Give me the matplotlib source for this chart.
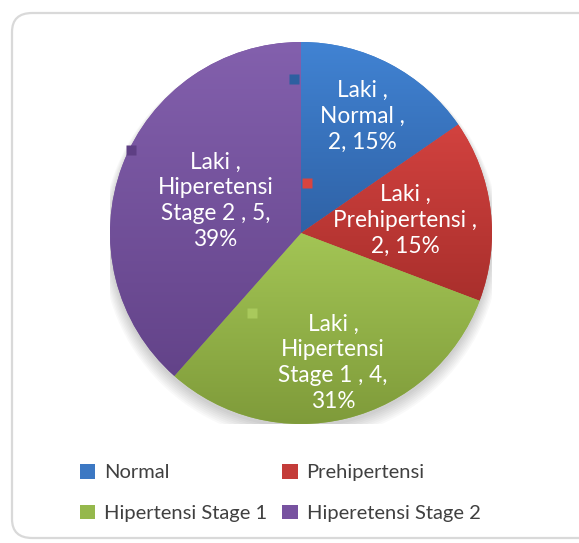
import matplotlib.pyplot as plt
import numpy as np
from matplotlib.patches import FancyBboxPatch, Rectangle, Circle
from matplotlib.colors import LinearSegmentedColormap

plt.rcParams['font.family'] = ['Lato', 'DejaVu Sans']

categories = ["Normal", "Prehipertensi", "Hipertensi Stage 1", "Hiperetensi Stage 2"]
values = [2, 2, 4, 5]
pct_labels = ["15%", "15%", "31%", "39%"]
label_texts = ["Laki ,\nNormal ,\n2, 15%",
               "Laki ,\nPrehipertensi ,\n2, 15%",
               "Laki ,\nHipertensi\nStage 1 , 4,\n31%",
               "Laki ,\nHiperetensi\nStage 2 , 5,\n39%"]
label_dist = [0.69, 0.55, 0.70, 0.48]
# light (top) / dark (bottom) shades per slice
top_colors = ["#4183d3", "#d2423f", "#a3c555", "#8360ad"]
bot_colors = ["#2f62a6", "#a92f2c", "#7f9b3a", "#634389"]
mid_colors = ["#3c78c3", "#c43c39", "#95b84c", "#7752a0"]
key_colors = ["#2d5fa0", "#d8443f", "#a9c95c", "#5e3f84"]

W, H = 579, 543
fig = plt.figure(figsize=(W / 100, H / 100), dpi=100)

# rounded chart frame
frame = FancyBboxPatch((12 / W, 5 / H), (W + 20) / W, (H - 18) / H,
                       boxstyle="round,pad=0,rounding_size=0.035",
                       transform=fig.transFigure, facecolor="white",
                       edgecolor="#d9d9d9", linewidth=1.6, zorder=-5)
fig.patches.append(frame)

cx, cy, r = 301, 233, 191
ax = fig.add_axes([(cx - r) / W, (H - cy - r) / H, 2 * r / W, 2 * r / H])
ax.set_xlim(-1, 1)
ax.set_ylim(-1, 1)
ax.set_aspect('equal')
ax.axis('off')

# soft shadow
for k in range(8):
    ax.add_patch(Circle((0, -0.02 - k * 0.004), 1.0 + k * 0.006, facecolor="black",
                        alpha=0.025, edgecolor="none", zorder=0))

wedges, _ = ax.pie(values, startangle=90, counterclock=False,
                   colors=mid_colors, radius=1.0,
                   wedgeprops=dict(edgecolor="none", linewidth=0))

grad = np.linspace(1, 0, 256).reshape(-1, 1)
for w, tc, bc in zip(wedges, top_colors, bot_colors):
    cmap = LinearSegmentedColormap.from_list("g", [bc, tc])
    bb = w.get_path().get_extents()
    im = ax.imshow(grad, cmap=cmap, extent=[bb.x0, bb.x1, bb.y0, bb.y1],
                   aspect='auto', zorder=2, vmin=0, vmax=1)
    im.set_clip_path(w)
ax.set_xlim(-1, 1)
ax.set_ylim(-1, 1)
ax.set_aspect('equal')

texts = []
for w, txt, d in zip(wedges, label_texts, label_dist):
    ang = np.deg2rad((w.theta1 + w.theta2) / 2)
    t = ax.text(d * np.cos(ang), d * np.sin(ang), txt, ha="center", va="center",
                color="white", fontsize=16.3, linespacing=1.28, zorder=5)
    texts.append(t)

fig.canvas.draw()
renderer = fig.canvas.get_renderer()
inv = ax.transData.inverted()
for t, c in zip(texts, key_colors):
    bb = t.get_window_extent(renderer)
    px, py = bb.x0 - 26, bb.y1 + 1
    x, y = inv.transform((px, py))
    ax.plot(x, y, marker="s", markersize=6.8, color=c, markeredgecolor="none", zorder=6)

handles = [Rectangle((0, 0), 1, 1, facecolor=c, edgecolor="none") for c in mid_colors]
order = [0, 2, 1, 3]  # row-major filling for two columns
leg = fig.legend([handles[i] for i in order], [categories[i] for i in order],
                 ncol=2, loc="upper left",
                 bbox_to_anchor=(72 / W, 1 - 456 / H), frameon=False,
                 fontsize=14.5, labelcolor="#404040", handlelength=0.75,
                 handleheight=0.75, handletextpad=0.45, columnspacing=0.75,
                 labelspacing=1.15, borderaxespad=0)

fig.savefig("out.png", dpi=100)
